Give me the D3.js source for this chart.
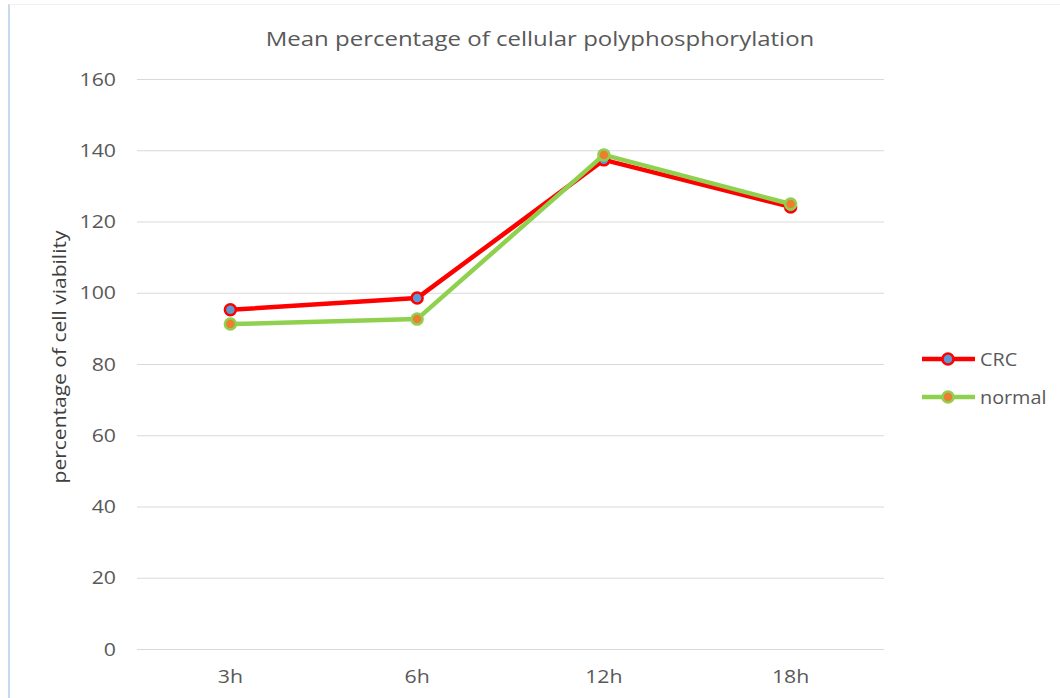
<!DOCTYPE html>
<html>
<head>
<meta charset="utf-8">
<script src="https://cdn.jsdelivr.net/npm/d3@7"></script>
<style>
  body { margin: 0; background: #fff; }
  svg { display: block; }
  text { font-family: "Open Sans", "Noto Sans", sans-serif; }
</style>
</head>
<body>
<svg id="chart" width="1060" height="698"></svg>
<script>
const categories = ["3h", "6h", "12h", "18h"];
const crcValues = [95.2, 98.5, 137.3, 124.1];
const normalValues = [91.2, 92.6, 138.7, 124.9];
const yTicks = [0, 20, 40, 60, 80, 100, 120, 140, 160];
const seriesNames = ["CRC", "normal"];

const svg = d3.select("#chart");
const W = 1060, H = 698;
const plot = { left: 137, right: 884, top: 79, bottom: 649 };

// frame edges
svg.append("line").attr("x1", 9).attr("x2", 9).attr("y1", 4).attr("y2", H)
  .attr("stroke", "#c6daf0").attr("stroke-width", 2);
svg.append("line").attr("x1", 9).attr("x2", W).attr("y1", 4.5).attr("y2", 4.5)
  .attr("stroke", "#f0f0f0").attr("stroke-width", 1);

const x = d3.scaleBand().domain(categories).range([plot.left, plot.right]);
const y = d3.scaleLinear().domain([0, 160]).range([plot.bottom, plot.top]);

// widen text horizontally (reference glyphs are stretched)
function stretch(sel, sx) {
  sel.each(function () {
    const t = d3.select(this);
    const tx = +t.attr("x") || 0;
    const ty = +t.attr("y") || 0;
    t.attr("transform", `translate(${tx},${ty}) scale(${sx},1)`).attr("x", 0).attr("y", 0);
  });
}

// gridlines + y ticks
const yAxis = d3.axisLeft(y).tickValues(yTicks).tickSize(-(plot.right - plot.left)).tickPadding(21);
const gy = svg.append("g").attr("transform", `translate(${plot.left},0)`).call(yAxis);
gy.select(".domain").remove();
gy.selectAll(".tick line").attr("stroke", "#d9d9d9").attr("stroke-width", 1);
gy.selectAll(".tick text").attr("fill", "#595959").attr("font-size", 19).attr("font-family", null);
stretch(gy.selectAll(".tick text"), 1.12);

const xAxis = d3.axisBottom(x).tickSize(0).tickPadding(0);
const gx = svg.append("g").attr("transform", `translate(0,${plot.bottom})`).call(xAxis);
gx.select(".domain").remove();
gx.selectAll(".tick text").attr("fill", "#595959").attr("font-size", 19).attr("font-family", null)
  .attr("dy", null).attr("y", 34);
stretch(gx.selectAll(".tick text"), 1.12);

// title
svg.append("text").attr("transform", "translate(540,46) scale(1.2,1)").attr("text-anchor", "middle")
  .attr("font-size", 20).attr("fill", "#595959").text("Mean percentage of cellular polyphosphorylation");

// y label
svg.append("text").attr("transform", "translate(66,357) rotate(-90) scale(1.2,1)").attr("text-anchor", "middle")
  .attr("font-size", 17.5).attr("fill", "#404040").text("percentage of cell viability");

const series = [
  { name: seriesNames[0], values: crcValues, line: "#ff0000", fill: "#5b9bd5" },
  { name: seriesNames[1], values: normalValues, line: "#8fd14f", fill: "#ed7d31" }
];

const lineGen = d3.line().x((d, i) => x(categories[i]) + x.bandwidth() / 2).y(d => y(d));

series.forEach(s => {
  const g = svg.append("g");
  g.append("path").datum(s.values).attr("d", lineGen).attr("fill", "none")
    .attr("stroke", s.line).attr("stroke-width", 4.5).attr("stroke-linejoin", "round");
  g.selectAll("circle").data(s.values).enter().append("circle")
    .attr("cx", (d, i) => x(categories[i]) + x.bandwidth() / 2)
    .attr("cy", d => y(d)).attr("r", 5.5)
    .attr("fill", s.fill).attr("stroke", s.line).attr("stroke-width", 2.5);
});

// legend
series.forEach((s, i) => {
  const ly = 359 + i * 38;
  const g = svg.append("g");
  g.append("line").attr("x1", 922).attr("x2", 975).attr("y1", ly).attr("y2", ly)
    .attr("stroke", s.line).attr("stroke-width", 4.5);
  g.append("circle").attr("cx", 948).attr("cy", ly).attr("r", 5.5)
    .attr("fill", s.fill).attr("stroke", s.line).attr("stroke-width", 2.5);
  g.append("text").attr("transform", `translate(980,${ly + 6.5}) scale(1.1,1)`).attr("font-size", 18)
    .attr("fill", "#595959").text(s.name);
});
</script>
</body>
</html>
